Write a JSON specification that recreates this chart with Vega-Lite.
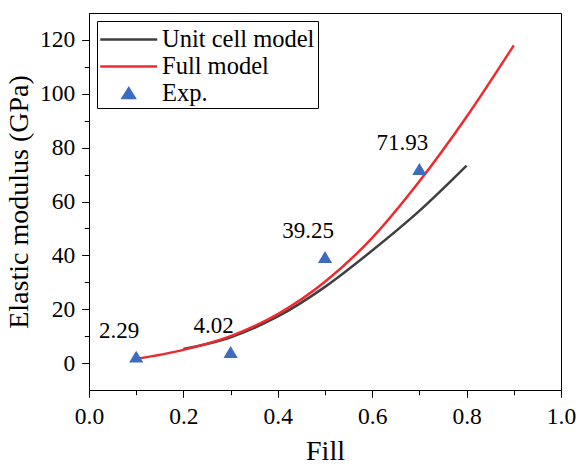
{
  "$schema": "https://vega.github.io/schema/vega-lite/v6.json",
  "width": 472,
  "height": 377,
  "autosize": {"type": "none"},
  "padding": {"left": 89, "top": 13, "right": 17, "bottom": 78},
  "background": "white",
  "config": {
    "view": {"stroke": "black", "strokeWidth": 1},
    "font": "Liberation Serif",
    "axis": {
      "grid": false,
      "domainColor": "black",
      "tickColor": "black",
      "labelColor": "black",
      "titleColor": "black",
      "labelFont": "Liberation Serif",
      "titleFont": "Liberation Serif",
      "labelFontSize": 23.5,
      "titleFontSize": 28,
      "titleFontWeight": "normal",
      "labelFlush": false
    }
  },
  "data": {
    "values": [
      {"series": "Unit cell model", "fill": 0.2, "modulus": 5.2},
      {"series": "Unit cell model", "fill": 0.3, "modulus": 9.6},
      {"series": "Unit cell model", "fill": 0.4, "modulus": 17.3},
      {"series": "Unit cell model", "fill": 0.5, "modulus": 28.3},
      {"series": "Unit cell model", "fill": 0.6, "modulus": 41.8},
      {"series": "Unit cell model", "fill": 0.7, "modulus": 56.5},
      {"series": "Unit cell model", "fill": 0.8, "modulus": 73.3},
      {"series": "Full model", "fill": 0.1, "modulus": 1.5},
      {"series": "Full model", "fill": 0.2, "modulus": 4.9},
      {"series": "Full model", "fill": 0.3, "modulus": 10.0},
      {"series": "Full model", "fill": 0.4, "modulus": 18.2},
      {"series": "Full model", "fill": 0.5, "modulus": 30.2},
      {"series": "Full model", "fill": 0.6, "modulus": 46.5},
      {"series": "Full model", "fill": 0.7, "modulus": 67.5},
      {"series": "Full model", "fill": 0.8, "modulus": 91.5},
      {"series": "Full model", "fill": 0.9, "modulus": 118},
      {"series": "Exp.", "fill": 0.1, "modulus": 2.29, "label": "2.29"},
      {"series": "Exp.", "fill": 0.3, "modulus": 4.02, "label": "4.02"},
      {"series": "Exp.", "fill": 0.5, "modulus": 39.25, "label": "39.25"},
      {"series": "Exp.", "fill": 0.7, "modulus": 71.93, "label": "71.93"}
    ]
  },
  "encoding": {
    "x": {
      "field": "fill",
      "type": "quantitative",
      "scale": {"domain": [0, 1], "nice": false, "zero": false},
      "axis": {
        "title": "Fill",
        "values": [0, 0.1, 0.2, 0.3, 0.4, 0.5, 0.6, 0.7, 0.8, 0.9, 1.0],
        "labelExpr": "round(datum.value*10)%2===1 ? '' : format(datum.value, '.1f')",
        "tickSize": {"condition": {"test": "round(datum.value*10)%2===1", "value": 4.7}, "value": 7.3},
        "labelPadding": 7,
        "titlePadding": 10
      }
    },
    "y": {
      "field": "modulus",
      "type": "quantitative",
      "scale": {"domain": [-10, 130], "nice": false, "zero": false},
      "axis": {
        "title": "Elastic modulus (GPa)",
        "values": [0, 10, 20, 30, 40, 50, 60, 70, 80, 90, 100, 110, 120],
        "labelExpr": "round(datum.value/10)%2===1 ? '' : format(datum.value, 'd')",
        "tickSize": {"condition": {"test": "round(datum.value/10)%2===1", "value": 4.7}, "value": 7.3},
        "labelPadding": 7,
        "titlePadding": 6
      }
    }
  },
  "layer": [
    {
      "transform": [{"filter": "datum.series !== 'Exp.'"}],
      "mark": {"type": "line", "strokeWidth": 2.5, "interpolate": "monotone"},
      "encoding": {
        "stroke": {
          "field": "series",
          "type": "nominal",
          "scale": {"domain": ["Unit cell model", "Full model"], "range": ["#3f3f3f", "#ee2a2e"]},
          "legend": null
        },
        "order": {"field": "fill", "type": "quantitative"}
      }
    },
    {
      "transform": [{"filter": "datum.series === 'Exp.'"}],
      "mark": {"type": "point", "filled": true, "color": "#3b6cbf", "opacity": 1, "size": 3249, "strokeWidth": 0, "shape": "M0,-0.22L0.25,0.2L-0.25,0.2Z"}
    },
    {
      "transform": [{"filter": "datum.series === 'legend-only'"}],
      "mark": {"type": "point", "filled": false, "fill": "#3b6cbf", "fillOpacity": 1, "size": 784, "opacity": 1, "strokeWidth": 1},
      "encoding": {
        "color": {
          "field": "series",
          "type": "nominal",
          "scale": {"domain": ["Unit cell model", "Full model", "Exp."], "range": ["#3f3f3f", "#ee2a2e", "#3b6cbf"]},
          "legend": {
            "title": null,
            "orient": "none",
            "legendX": 8,
            "legendY": 8,
            "strokeColor": "black",
            "fillColor": "white",
            "padding": 3,
            "labelFont": "Liberation Serif",
            "labelFontSize": 24.5,
            "labelColor": "black",
            "labelOffset": 31,
            "symbolSize": 784,
            "symbolStrokeWidth": 2.5,
            "symbolFillColor": "#3b6cbf",
            "symbolOpacity": 1,
            "rowPadding": 0,
            "labelLimit": 400
          }
        },
        "shape": {
          "field": "series",
          "type": "nominal",
          "scale": {"domain": ["Unit cell model", "Full model", "Exp."], "range": ["M-1.09,0L2.98,0", "M-1.09,0L2.98,0", "M0.946,-0.36L1.37,0.33L0.52,0.33Z"]},
          "legend": null
        }
      }
    },
    {
      "transform": [{"filter": "datum.series === 'Exp.'"}],
      "mark": {"type": "text", "font": "Liberation Serif", "fontSize": 23, "color": "black", "align": "center", "baseline": "alphabetic", "dx": -17, "dy": -19},
      "encoding": {"text": {"field": "label"}}
    }
  ]
}
